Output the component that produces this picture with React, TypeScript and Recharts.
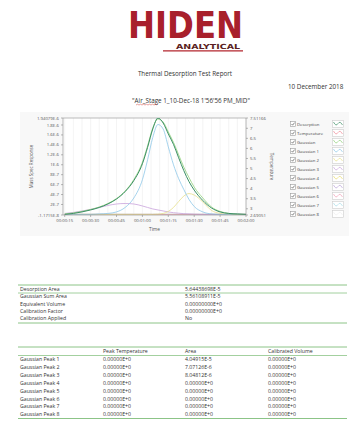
import { LineChart, Line, XAxis, YAxis, ReferenceLine, CartesianGrid } from 'recharts';

// time in seconds, responses in units of 1E-6
const times = [15, 20, 25, 30, 35, 40, 45, 50, 55, 60, 63, 66, 69, 72, 75, 78, 81, 84, 87, 90, 95, 100, 105, 110, 115, 120];
const desorption = [0.0, 0.02, 0.05, 0.09, 0.14, 0.21, 0.31, 0.46, 0.68, 1.02, 1.35, 1.72, 1.94, 1.84, 1.62, 1.41, 1.14, 0.88, 0.66, 0.49, 0.28, 0.13, 0.05, 0.02, 0.01, 0.0];
const gaussianSum = [0.01, 0.03, 0.06, 0.1, 0.15, 0.22, 0.32, 0.47, 0.7, 1.05, 1.38, 1.74, 1.92, 1.86, 1.66, 1.45, 1.2, 0.95, 0.74, 0.55, 0.33, 0.15, 0.06, 0.02, 0.0, 0.0];
const gaussian1 = [0, 0, 0, 0, 0.01, 0.02, 0.05, 0.14, 0.33, 0.7, 1.1, 1.55, 1.81, 1.72, 1.36, 1.0, 0.72, 0.5, 0.3, 0.16, 0.05, 0.01, 0, 0, 0, 0];
const gaussian2 = [0, 0, 0, 0, 0, 0, 0, 0, 0, 0, 0, 0, 0.005, 0.02, 0.06, 0.14, 0.26, 0.37, 0.42, 0.39, 0.25, 0.08, 0.02, 0, 0, 0];
const gaussian3 = [0.02, 0.04, 0.07, 0.1, 0.14, 0.18, 0.21, 0.22, 0.21, 0.17, 0.14, 0.11, 0.09, 0.07, 0.05, 0.035, 0.025, 0.015, 0.01, 0.005, 0, 0, 0, 0, 0, 0];
const zeroGaussian = [0, 0, 0, 0, 0, 0, 0, 0, 0, 0, 0, 0, 0, 0, 0, 0, 0, 0, 0, 0, 0, 0, 0, 0, 0, 0];
const temperature = [2.7, 2.7, 2.7, 2.7, 2.7, 2.7, 2.7, 2.7, 2.7, 2.7, 2.7, 2.7, 2.7, 2.7, 2.7, 2.7, 2.7, 2.7, 2.7, 2.7, 2.7, 2.7, 2.7, 2.7, 2.7, 2.7];

const xTicks = [15, 30, 45, 60, 75, 90, 105, 120];
const xTickLabels = ['00:00:15', '00:00:30', '00:00:45', '00:01:00', '00:01:15', '00:01:30', '00:01:45', '00:02:00'];
const gridTimes = [20, 25, 35, 40, 50, 55, 65, 70, 80, 85, 95, 100, 110, 115, 15, 30, 45, 60, 75, 90, 105];
const leftTicks = [-0.011715, 0.2, 0.4, 0.6, 0.8, 1.0, 1.2, 1.4, 1.6, 1.8, 1.94079];
const leftTickLabels = ['-1.1715E-8', '2E-7', '4E-7', '6E-7', '8E-7', '1E-6', '1.2E-6', '1.4E-6', '1.6E-6', '1.8E-6', '1.94079E-6'];
const rightTicks = [2.69051, 3, 3.5, 4, 4.5, 5, 5.5, 6, 6.5, 7, 7.51166];
const rightTickLabels = ['2.69051', '3', '3.5', '4', '4.5', '5', '5.5', '6', '6.5', '7', '7.51166'];

const legendNames = ['Desorption', 'Temperature', 'Gaussian', 'Gaussian 1', 'Gaussian 2', 'Gaussian 3', 'Gaussian 4', 'Gaussian 5', 'Gaussian 6', 'Gaussian 7', 'Gaussian 8'];
const legendColors = ['#3c8f66', '#f08a96', '#8fd07a', '#8ec8e8', '#e6df8c', '#c9a3dc', '#e8dc70', '#b9a2d8', '#f0a0b8', '#a8dce8', '#eeeeee'];

const summaryLabels = ['Desorption Area', 'Gaussian Sum Area', 'Equivalent Volume', 'Calibration Factor', 'Calibration Applied'];
const summaryValues = ['5.64438698E-5', '5.56108911E-5', '0.00000000E+0', '0.00000000E+0', 'No'];

const peakHeaders = ['Peak Temperature', 'Area', 'Calibrated Volume'];
const peakNames = ['Gaussian Peak 1', 'Gaussian Peak 2', 'Gaussian Peak 3', 'Gaussian Peak 4', 'Gaussian Peak 5', 'Gaussian Peak 6', 'Gaussian Peak 7', 'Gaussian Peak 8'];
const peakTemps = ['0.00000E+0', '0.00000E+0', '0.00000E+0', '0.00000E+0', '0.00000E+0', '0.00000E+0', '0.00000E+0', '0.00000E+0'];
const peakAreas = ['4.04915E-5', '7.07126E-6', '8.04812E-6', '0.00000E+0', '0.00000E+0', '0.00000E+0', '0.00000E+0', '0.00000E+0'];
const peakVolumes = ['0.00000E+0', '0.00000E+0', '0.00000E+0', '0.00000E+0', '0.00000E+0', '0.00000E+0', '0.00000E+0', '0.00000E+0'];

const seriesKeys = ['g4', 'g5', 'g6', 'g7', 'g8', 'temp', 'g3', 'g2', 'g1', 'sum', 'des'];

const data = times.map((t, i) => ({
  t,
  des: desorption[i],
  sum: gaussianSum[i],
  g1: gaussian1[i],
  g2: gaussian2[i],
  g3: gaussian3[i],
  g4: zeroGaussian[i],
  g5: zeroGaussian[i],
  g6: zeroGaussian[i],
  g7: zeroGaussian[i],
  g8: zeroGaussian[i],
  temp: temperature[i],
}));

const colorFor: Record<string, string> = {
  des: legendColors[0],
  temp: legendColors[1],
  sum: legendColors[2],
  g1: legendColors[3],
  g2: legendColors[4],
  g3: legendColors[5],
  g4: legendColors[6],
  g5: legendColors[7],
  g6: legendColors[8],
  g7: legendColors[9],
  g8: legendColors[10],
};

const font = '"Open Sans", "Liberation Sans", sans-serif';
const tickStyle = { fontSize: 4.3, fill: '#555', fontFamily: font };

const fmt = (ticks: number[], labels: string[]) => (v: number) => {
  const i = ticks.findIndex((x) => Math.abs(x - v) < 1e-6);
  return i >= 0 ? labels[i] : String(v);
};

const Legend = () => (
  <div style={{ position: 'absolute', left: 288, top: 120, width: 58, fontFamily: font }}>
    {legendNames.map((name, i) => (
      <div key={name} style={{ position: 'relative', height: 9.1 }}>
        <svg style={{ position: 'absolute', left: 1.5, top: 0.5 }} width={6} height={6}>
          <rect x={0.5} y={0.5} width={5} height={5} fill="#fff" stroke="#999" strokeWidth={0.6} />
          <path d="M1.5 3 L2.6 4.2 L4.6 1.6" fill="none" stroke="#555" strokeWidth={0.7} />
        </svg>
        <div style={{ position: 'absolute', left: 9, top: 0.5, fontSize: 4.3, color: '#444', whiteSpace: 'nowrap' }}>{name}</div>
        <svg style={{ position: 'absolute', left: 44, top: -0.5 }} width={12} height={8}>
          <rect x={0.5} y={0.5} width={11} height={7} fill="#fff" stroke="#ccc" strokeWidth={0.6} />
          <path d="M1.5 2 Q4 7 6 3.5 Q8 0.5 10.5 5" fill="none" stroke={legendColors[i]} strokeWidth={0.7} />
        </svg>
      </div>
    ))}
  </div>
);

const TimeChart = () => (
  <LineChart
    width={349}
    height={130}
    data={data}
    margin={{ top: 13, right: 73, bottom: 6, left: 23 }}
    style={{ position: 'absolute', left: 0, top: 105 }}
  >
    <CartesianGrid horizontal={false} vertical={false} fill="#fff" />
    {gridTimes.map((g) => (
      <ReferenceLine key={g} x={g} yAxisId="left" stroke="#ececec" strokeWidth={0.6} />
    ))}
    <ReferenceLine y={1.94079} yAxisId="left" stroke="#aaa" strokeWidth={0.8} />
    <XAxis
      dataKey="t"
      type="number"
      domain={[14, 120]}
      ticks={xTicks}
      tickFormatter={fmt(xTicks, xTickLabels)}
      tick={tickStyle}
      tickSize={2}
      height={14}
      stroke="#888"
      strokeWidth={0.6}
      interval={0}
      label={{ value: 'Time', position: 'insideBottom', offset: -2, style: { fontSize: 4.8, fill: '#555', fontFamily: font } }}
    />
    <YAxis
      yAxisId="left"
      width={40}
      domain={[-0.011715, 1.94079]}
      ticks={leftTicks}
      tickFormatter={fmt(leftTicks, leftTickLabels)}
      tick={tickStyle}
      tickSize={2}
      stroke="#888"
      strokeWidth={0.6}
      interval={0}
      allowDataOverflow
      label={{ value: 'Mass Spec Response', angle: -90, position: 'insideLeft', offset: 8, style: { fontSize: 4.5, fill: '#555', fontFamily: font, textAnchor: 'middle' } }}
    />
    <YAxis
      yAxisId="right"
      orientation="right"
      width={30}
      domain={[2.69051, 7.51166]}
      ticks={rightTicks}
      tickFormatter={fmt(rightTicks, rightTickLabels)}
      tick={tickStyle}
      tickSize={2}
      stroke="#888"
      strokeWidth={0.6}
      interval={0}
      allowDataOverflow
      label={{ value: 'Temperature', angle: 90, position: 'insideRight', offset: 4, style: { fontSize: 4.5, fill: '#555', fontFamily: font, textAnchor: 'middle' } }}
    />
    {seriesKeys.map((k) => (
      <Line
        key={k}
        yAxisId={k === 'temp' ? 'right' : 'left'}
        type="monotone"
        dataKey={k}
        stroke={colorFor[k]}
        strokeWidth={k === 'des' ? 1 : 0.8}
        dot={false}
        isAnimationActive={false}
      />
    ))}
  </LineChart>
);

const Page = () => {
  const txt = { fontFamily: font, fill: '#333' };
  const lineColor = '#8cc487';
  return (
    <svg width={349} height={424} style={{ position: 'absolute', left: 0, top: 0 }}>
      {/* logo */}
      <text x={128} y={38} fontSize={38} fontWeight={900} fill="#a8202c" fontFamily='"DejaVu Sans", sans-serif' textLength={115} lengthAdjust="spacingAndGlyphs">HIDEN</text>
      <text x={176} y={48.5} fontSize={7} fontWeight={700} fill="#5a1e22" fontFamily='"DejaVu Sans", sans-serif' textLength={64} lengthAdjust="spacingAndGlyphs">ANALYTICAL</text>
      <line x1={163} y1={50.8} x2={243} y2={50.8} stroke="#b3262e" strokeWidth={1.2} />
      <text x={185} y={76} fontSize={6.3} textAnchor="middle" {...txt}>Thermal Desorption Test Report</text>
      <text x={288} y={89} fontSize={6.3} {...txt}>10 December 2018</text>
      <text x={191} y={103} fontSize={6.3} textAnchor="middle" {...txt}>"Air_Stage 1_10-Dec-18 1'56'56 PM_MID"</text>
      <path d="M136 105 l1.5 -0.8 l1.5 0.8 l1.5 -0.8 l1.5 0.8 l1.5 -0.8 l1.5 0.8 l1.5 -0.8 l1.5 0.8 l1.5 -0.8 l1.5 0.8 l1.5 -0.8 l1.5 0.8 l1.5 -0.8 l1.5 0.8" fill="none" stroke="#d0443c" strokeWidth={0.5} />
      <rect x={20} y={112} width={329} height={124} fill="#f8f8f8" />

      {/* summary table */}
      <line x1={18} y1={285} x2={347} y2={285} stroke={lineColor} strokeWidth={1} />
      <line x1={18} y1={293} x2={347} y2={293} stroke={lineColor} strokeWidth={0.8} />
      <line x1={18} y1={323} x2={347} y2={323} stroke={lineColor} strokeWidth={1} />
      {summaryLabels.map((l, i) => (
        <g key={l}>
          <text x={20} y={291 + i * 7.3} fontSize={5.2} {...txt}>{l}</text>
          <text x={185} y={291 + i * 7.3} fontSize={5.2} {...txt}>{summaryValues[i]}</text>
        </g>
      ))}

      {/* peak table */}
      <line x1={18} y1={347} x2={347} y2={347} stroke={lineColor} strokeWidth={1} />
      <line x1={18} y1={355.5} x2={347} y2={355.5} stroke={lineColor} strokeWidth={0.8} />
      <line x1={18} y1={418.5} x2={347} y2={418.5} stroke={lineColor} strokeWidth={1} />
      {peakHeaders.map((h, i) => (
        <text key={h} x={[103, 185, 268][i]} y={353} fontSize={5.2} {...txt}>{h}</text>
      ))}
      {peakNames.map((n, i) => (
        <g key={n}>
          <text x={20} y={361 + i * 7.9} fontSize={5.2} {...txt}>{n}</text>
          <text x={103} y={361 + i * 7.9} fontSize={5.2} {...txt}>{peakTemps[i]}</text>
          <text x={185} y={361 + i * 7.9} fontSize={5.2} {...txt}>{peakAreas[i]}</text>
          <text x={268} y={361 + i * 7.9} fontSize={5.2} {...txt}>{peakVolumes[i]}</text>
        </g>
      ))}
    </svg>
  );
};

export default function App() {
  return (
    <div style={{ position: 'absolute', left: 0, top: 0, width: 349, height: 424, background: '#fff', overflow: 'hidden' }}>
      <Page />
      <TimeChart />
      <Legend />
    </div>
  );
}
